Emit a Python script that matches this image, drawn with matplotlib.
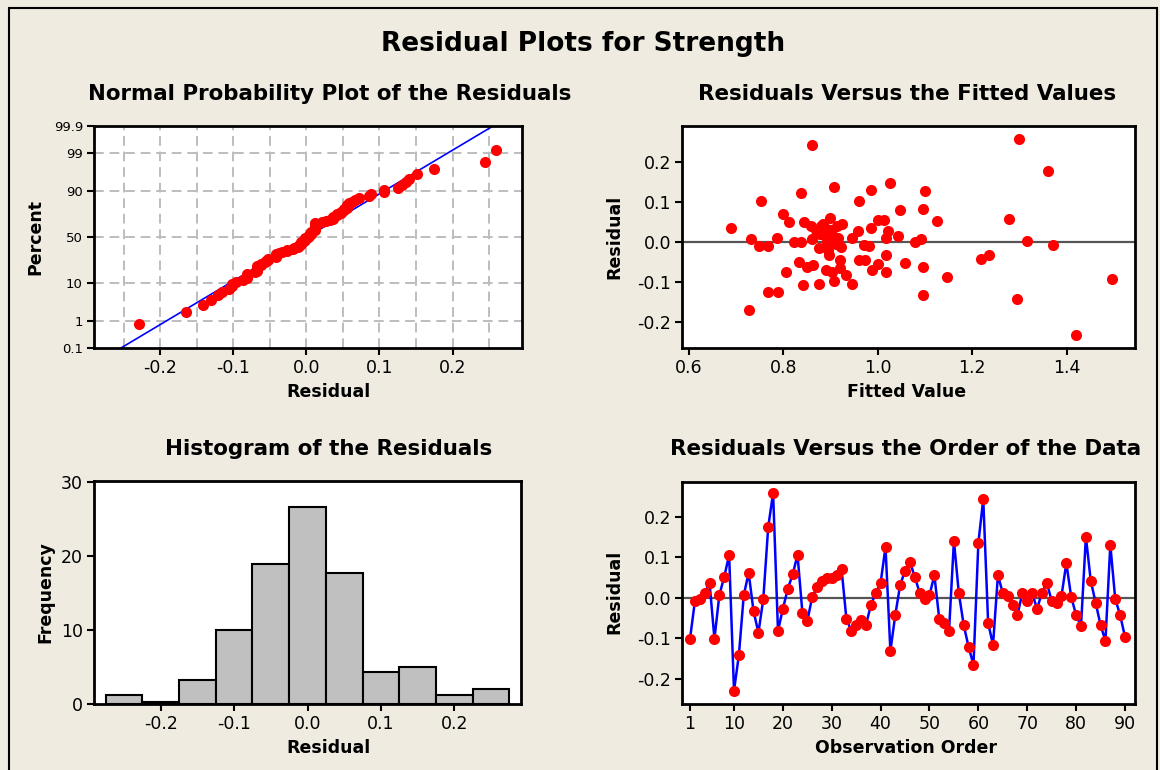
import matplotlib
matplotlib.use("Agg")
import matplotlib.pyplot as plt
from matplotlib.patches import Rectangle
from statistics import NormalDist
import numpy as np

# ---------------- data ----------------
order_resid = [
    -0.101, -0.008, -0.003, 0.012, 0.037, -0.101, 0.007, 0.052, 0.106, -0.229,
    -0.141, 0.007, 0.062, -0.033, -0.086, -0.002, 0.175, 0.259, -0.081, -0.027,
    0.022, 0.058, 0.106, -0.037, -0.057, 0.002, 0.027, 0.042, 0.048, 0.048,
    0.056, 0.072, -0.052, -0.081, -0.067, -0.055, -0.067, -0.018, 0.012, 0.037,
    0.126, -0.131, -0.042, 0.032, 0.067, 0.088, 0.052, 0.012, -0.002, 0.007,
    0.056, -0.052, -0.062, -0.081, 0.141, 0.012, -0.067, -0.121, -0.165, 0.136,
    0.244, -0.062, -0.116, 0.056, 0.012, 0.004, -0.017, -0.042, 0.012, -0.007,
    0.012, -0.027, 0.012, 0.037, -0.007, -0.012, 0.004, 0.086, 0.002, -0.042,
    -0.070, 0.151, 0.042, -0.012, -0.067, -0.106, 0.131, -0.002, -0.042, -0.096,
]
observation = list(range(1, len(order_resid) + 1))

fitted_values = [
    0.690, 0.727, 0.732, 0.748, 0.753, 0.769, 0.769, 0.787, 0.790, 0.800,
    0.807, 0.813, 0.823, 0.837, 0.833, 0.837, 0.841, 0.845, 0.850, 0.858,
    0.862, 0.862, 0.864, 0.876, 0.876, 0.881, 0.886, 0.890, 0.893, 0.897,
    0.900, 0.900, 0.904, 0.908, 0.908, 0.911, 0.916, 0.923, 0.921, 0.925,
    0.932, 0.946, 0.946, 0.958, 0.960, 0.960, 0.971, 0.973, 0.981, 0.985,
    0.985, 0.989, 1.001, 1.001, 1.013, 1.018, 1.018, 1.018, 1.022, 1.027,
    1.044, 1.048, 1.057, 1.080, 1.091, 1.095, 1.100, 1.095, 1.095, 1.126,
    1.147, 1.219, 1.235, 1.279, 1.295, 1.300, 1.317, 1.360, 1.372, 1.419,
    1.496, 0.885, 0.888, 0.878, 0.892, 0.905, 0.915, 0.895, 0.920, 0.870,
]
fitted_resid = [
    0.037, -0.168, 0.008, -0.008, 0.103, -0.008, -0.123, 0.012, -0.123, 0.072,
    -0.073, 0.052, 0.002, 0.002, -0.048, 0.123, -0.107, 0.052, -0.062, 0.042,
    0.008, 0.243, -0.057, -0.015, -0.103, 0.041, 0.018, -0.068, -0.009, -0.032,
    0.062, 0.031, -0.073, 0.138, -0.097, -0.003, 0.010, -0.011, -0.065, 0.047,
    -0.082, -0.103, 0.010, 0.029, 0.103, -0.043, -0.007, -0.043, -0.009, 0.037,
    0.132, -0.068, -0.054, 0.057, 0.057, -0.032, -0.073, 0.012, 0.029, 0.148,
    0.017, 0.082, -0.052, 0.002, 0.009, 0.083, 0.128, -0.062, -0.131, 0.054,
    -0.087, -0.042, -0.031, 0.058, -0.142, 0.258, 0.003, 0.179, -0.007, -0.232,
    -0.092, 0.047, 0.035, 0.022, 0.002, 0.015, 0.040, -0.020, -0.045, 0.030,
]

hist_centers = [-0.25, -0.20, -0.15, -0.10, -0.05, 0.00, 0.05, 0.10, 0.15, 0.20, 0.25]
hist_counts = [1.3, 0.25, 3.25, 10, 18.9, 26.7, 17.8, 4.3, 5.1, 1.3, 2.1]

pct_ticks = [0.1, 1, 10, 50, 90, 99, 99.9]
pct_labels = ["0.1", "1", "10", "50", "90", "99", "99.9"]

# ---------------- style ----------------
BG = "#EFEBE0"
RED = "#FF0000"
BLUE = "#0000FF"
plt.rcParams["font.family"] = ["DejaVu Sans"]

W, H = 1160, 770
fig = plt.figure(figsize=(W / 100, H / 100), dpi=100, facecolor=BG)


def ax_at(x0, y0, x1, y1):
    return fig.add_axes([x0 / W, 1 - y1 / H, (x1 - x0) / W, (y1 - y0) / H])


def style(ax):
    for s in ax.spines.values():
        s.set_linewidth(2)
        s.set_color("black")
    ax.tick_params(direction="out", length=5, width=1.5, labelsize=12.5, pad=3)
    ax.set_facecolor("white")


def ftext(x, y, s, size, bold=True, rot=0):
    fig.text(x / W, 1 - y / H, s, ha="center", va="center", fontsize=size,
             fontweight="bold" if bold else "normal", rotation=rot)


nd = NormalDist()

# --- Normal probability plot ---
ax1 = ax_at(94, 126, 522, 348)
style(ax1)
r = np.sort(np.array(order_resid))
n = len(r)
p = (np.arange(1, n + 1) - 0.3) / (n + 0.4)
z = np.array([nd.inv_cdf(v) for v in p])
zlo, zhi = nd.inv_cdf(0.001), nd.inv_cdf(0.999)
mu, sd = np.mean(r), np.std(r, ddof=1)
ax1.set_xlim(-0.2904, 0.295)
ax1.set_ylim(zlo, zhi)
for xv in np.arange(-0.25, 0.26, 0.05):
    ax1.axvline(xv, color="#BDBDBD", lw=1.4, ls=(0, (5, 3)), zorder=1)
for pv in pct_ticks[1:-1]:
    ax1.axhline(nd.inv_cdf(pv / 100), color="#BDBDBD", lw=1.4, ls=(0, (5, 3)), zorder=1)
zz = np.array([zlo, zhi])
ax1.plot(mu + sd * zz, zz, color=BLUE, lw=1.2, zorder=2)
ax1.plot(r, z, "o", color=RED, ms=8, mew=0, zorder=3)
ax1.set_yticks([nd.inv_cdf(v / 100) for v in pct_ticks])
ax1.set_yticklabels(pct_labels, fontsize=9.5)
ax1.set_xticks([-0.2, -0.1, 0.0, 0.1, 0.2])
ax1.set_xticklabels(["-0.2", "-0.1", "0.0", "0.1", "0.2"])

# --- Residuals vs fitted ---
ax2 = ax_at(682, 126, 1135, 348)
style(ax2)
ax2.set_xlim(0.586, 1.5446)
ax2.set_ylim(-0.264, 0.291)
ax2.axhline(0, color="#555555", lw=1.6, zorder=1)
ax2.plot(fitted_values, fitted_resid, "o", color=RED, ms=8, mew=0, zorder=3)
ax2.set_xticks([0.6, 0.8, 1.0, 1.2, 1.4])
ax2.set_xticklabels(["0.6", "0.8", "1.0", "1.2", "1.4"])
ax2.set_yticks([-0.2, -0.1, 0.0, 0.1, 0.2])
ax2.set_yticklabels(["-0.2", "-0.1", "0.0", "0.1", "0.2"])

# --- Histogram ---
ax3 = ax_at(94, 480.7, 521, 704.3)
style(ax3)
ax3.bar(hist_centers, hist_counts, width=0.05, color="#C0C0C0",
        edgecolor="black", linewidth=1.5, zorder=2)
ax3.set_xlim(-0.291, 0.291)
ax3.set_ylim(0, 30.2)
ax3.set_xticks([-0.2, -0.1, 0.0, 0.1, 0.2])
ax3.set_xticklabels(["-0.2", "-0.1", "0.0", "0.1", "0.2"])
ax3.set_yticks([0, 10, 20, 30])

# --- Residuals vs order ---
ax4 = ax_at(682, 481.7, 1135, 704)
style(ax4)
ax4.set_xlim(-0.64, 92.05)
ax4.set_ylim(-0.262, 0.287)
ax4.axhline(0, color="#555555", lw=1.6, zorder=1)
ax4.plot(observation, order_resid, "-", color=BLUE, lw=1.8, zorder=2)
ax4.plot(observation, order_resid, "o", color=RED, ms=8, mew=0, zorder=3)
ax4.set_xticks([1, 10, 20, 30, 40, 50, 60, 70, 80, 90])
ax4.set_yticks([-0.2, -0.1, 0.0, 0.1, 0.2])
ax4.set_yticklabels(["-0.2", "-0.1", "0.0", "0.1", "0.2"])

# --- texts ---
ftext(583, 44, "Residual Plots for Strength", 19)
ftext(330, 94, "Normal Probability Plot of the Residuals", 15.4)
ftext(907, 94, "Residuals Versus the Fitted Values", 15.4)
ftext(329, 449, "Histogram of the Residuals", 15.4)
ftext(906, 449, "Residuals Versus the Order of the Data", 15.4)
ftext(329, 392, "Residual", 12.5)
ftext(907, 392, "Fitted Value", 12.5)
ftext(329, 748, "Residual", 12.5)
ftext(906, 748, "Observation Order", 12.5)
ftext(35, 237, "Percent", 12.5, rot=90)
ftext(614, 237, "Residual", 12.5, rot=90)
ftext(45, 592, "Frequency", 12.5, rot=90)
ftext(614, 592, "Residual", 12.5, rot=90)

fig.patches.append(Rectangle((9 / W, -0.05), (1157 - 9) / W, 1 - 8 / H + 0.05,
                             transform=fig.transFigure, fill=False,
                             edgecolor="black", lw=1.5))

fig.savefig("out.png", dpi=100, facecolor=BG)
